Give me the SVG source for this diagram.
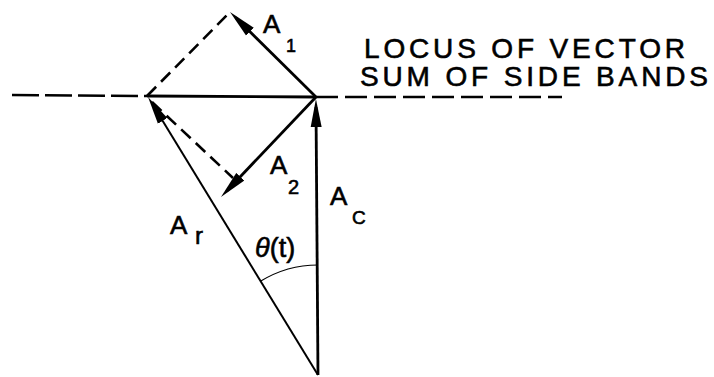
<svg xmlns="http://www.w3.org/2000/svg" width="714" height="377" viewBox="0 0 714 377">
<style>
.v{stroke:#000;stroke-width:2.8;fill:none;stroke-linecap:butt}
.thin{stroke-width:2}
.d{stroke:#000;stroke-width:2.6;fill:none;stroke-dasharray:13 7}
.t{font-family:"Liberation Sans",Arial,sans-serif;fill:#000;stroke:#000;stroke-width:0.6}
.big{font-size:26px}
.title{font-size:28px}
</style>
<defs>
<marker id="ah" viewBox="0 -6 28 12" refX="20" refY="0" markerWidth="28" markerHeight="12" markerUnits="userSpaceOnUse" orient="auto">
<path d="M0,-5.5 L28,0 L0,5.5 Z" fill="#000"/>
</marker>
</defs>
<rect width="714" height="377" fill="#fff"/>
<g id="connectors">
<line class="d" x1="12" y1="95" x2="147" y2="96" style="stroke-dasharray:27 6"/>
<line class="v" x1="147" y1="96" x2="316" y2="97"/>
<line class="d" x1="316" y1="97" x2="562" y2="97" style="stroke-dasharray:22 7"/>
<line class="d" x1="147" y1="96" x2="230" y2="12"/>
<line class="d" x1="152" y1="102" x2="233" y2="178"/>
<line id="A1" class="v" x1="316" y1="97" x2="235.7" y2="17.6" marker-end="url(#ah)"/>
<line id="A2" class="v" x1="316" y1="97" x2="226.5" y2="191.2" marker-end="url(#ah)"/>
<line id="Ac" class="v" x1="318" y1="375" x2="316" y2="107" marker-end="url(#ah)"/>
<line id="Ar" class="v thin" x1="318" y1="375" x2="152.2" y2="103.8" marker-end="url(#ah)"/>
<path id="theta-arc" d="M260.4,281.3 A110,110 0 0 1 318,265" fill="none" stroke="#000" stroke-width="1.2"/>
</g>
<g id="label-A1"><text class="t big" x="263" y="33">A</text><text class="t" x="286" y="52" font-size="18">1</text></g>
<g id="label-A2"><text class="t big" x="270" y="174">A</text><text class="t" x="288" y="194" font-size="20">2</text></g>
<g id="label-Ac"><text class="t big" x="330" y="205">A</text><text class="t" x="352" y="224" font-size="19">C</text></g>
<g id="label-Ar"><text class="t big" x="170" y="234">A</text><text class="t" x="195" y="244" font-size="24">r</text></g>
<g id="label-theta"><text class="t" x="255" y="257" font-size="27"><tspan font-style="italic">θ</tspan>(t)</text></g>
<g id="label-locus">
<text class="t title"><tspan x="364" y="58" textLength="321" lengthAdjust="spacing">LOCUS OF VECTOR</tspan><tspan x="360" y="86" textLength="348" lengthAdjust="spacing">SUM OF SIDE BANDS</tspan></text>
</g>
</svg>
